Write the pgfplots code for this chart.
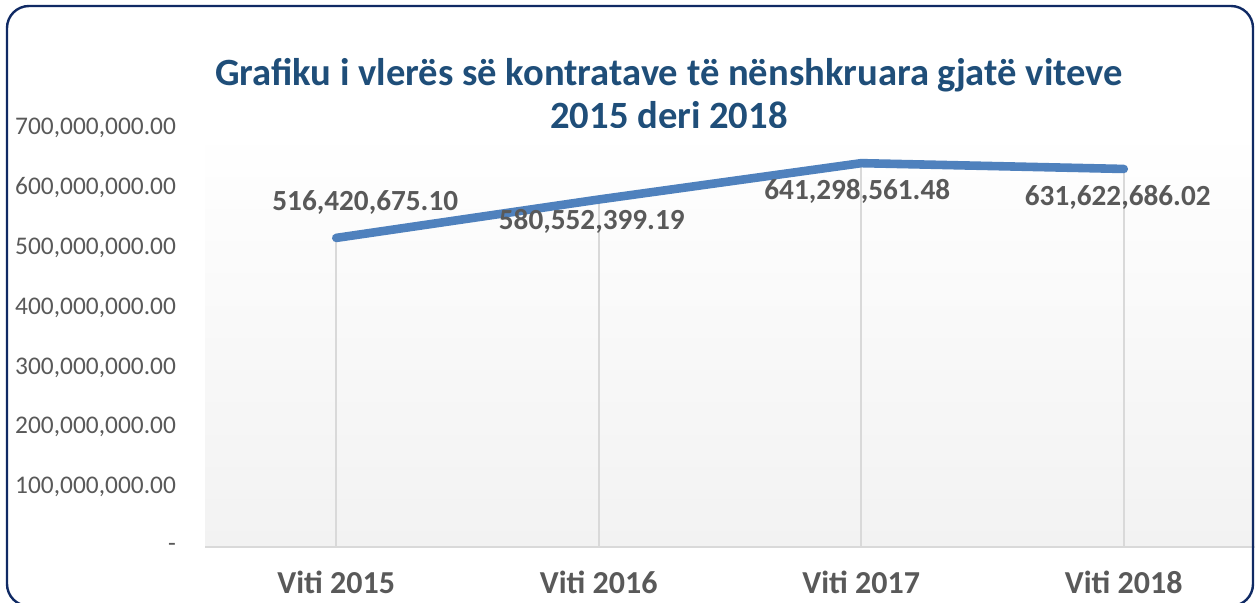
\documentclass[border=0pt]{standalone}
\usepackage{fontspec}
\setmainfont{Carlito}
\usepackage{pgfplots}
\pgfplotsset{compat=1.18}
\definecolor{navyb}{RGB}{16,42,100}
\definecolor{titleblue}{RGB}{31,78,121}
\definecolor{lineblue}{RGB}{79,129,189}
\definecolor{txtgray}{RGB}{89,89,89}
\definecolor{gridgray}{RGB}{217,217,217}
\definecolor{bggray}{RGB}{242,242,242}
\begin{document}
\begin{tikzpicture}
\useasboundingbox (0,0) rectangle (628.5pt,301pt);
\node[titleblue, font=\fontsize{19.3}{21.5}\selectfont\bfseries, align=center] at (334.5pt,254.25pt)
  {Grafiku i vlerës së kontratave të nënshkruara gjatë viteve\\2015 deri 2018};
\begin{axis}[
  at={(102.5pt,27.5pt)}, anchor=south west,
  width=525pt, height=209.5pt, scale only axis,
  xmin=0, xmax=4, ymin=0, ymax=700000000,
  scaled y ticks=false,
  axis x line*=bottom, axis y line*=left,
  x axis line style={draw=gridgray, line width=1pt, -},
  y axis line style={draw=none},
  axis background/.style={top color=white, bottom color=bggray},
  major tick length=0pt,
  xtick={0.5,1.5,2.5,3.5},
  xticklabels={Viti 2015,Viti 2016,Viti 2017,Viti 2018},
  xticklabel style={font=\fontsize{16}{18}\selectfont\bfseries, text=txtgray, anchor=base, yshift=-23pt},
  ytick={0,100000000,200000000,300000000,400000000,500000000,600000000,700000000},
  yticklabels={{-\hspace{4.5pt}},{100,000,000.00},{200,000,000.00},{300,000,000.00},{400,000,000.00},{500,000,000.00},{600,000,000.00},{700,000,000.00}},
  yticklabel style={font=\fontsize{12.7}{15}\selectfont, text=txtgray, anchor=east, xshift=-11pt},
  clip=false,
]
\addplot[ycomb, draw=gridgray, line width=1pt, no marks] coordinates {
  (0.5,516420675.10) (1.5,580552399.19) (2.5,641298561.48) (3.5,631622686.02)};
\addplot[draw=lineblue, line width=4.3pt, line cap=round, line join=round, no marks] coordinates {
  (0.5,516420675.10) (1.5,580552399.19) (2.5,641298561.48) (3.5,631622686.02)};
\begin{scope}[every node/.style={font=\fontsize{14.6}{17}\selectfont\bfseries, text=txtgray, inner sep=0pt, anchor=center}]
\node[xshift=14.5pt, yshift=17.5pt] at (axis cs:0.5,516420675.10) {516,420,675.10};
\node[xshift=-3.5pt, yshift=-11pt] at (axis cs:1.5,580552399.19) {580,552,399.19};
\node[xshift=-2pt, yshift=-14pt] at (axis cs:2.5,641298561.48) {641,298,561.48};
\node[xshift=-3pt, yshift=-14pt] at (axis cs:3.5,631622686.02) {631,622,686.02};
\end{scope}
\end{axis}
\draw[navyb, line width=1.2pt, rounded corners=11pt] (3.5pt,-2pt) rectangle (626.5pt,298pt);
\end{tikzpicture}
\end{document}
